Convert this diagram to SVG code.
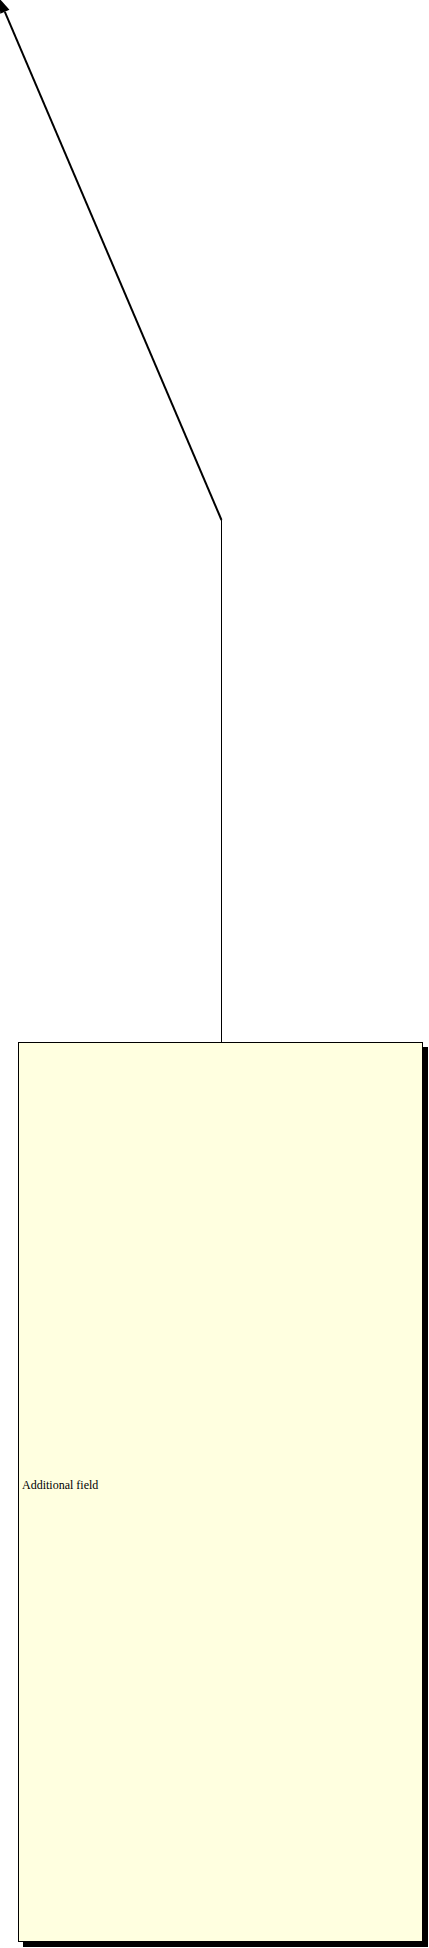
<svg xmlns="http://www.w3.org/2000/svg" width="429" height="1948" viewBox="0 0 429 1948">
<style>
.node{fill:#FFFFE0;stroke:#000;stroke-width:1}
.shadow{fill:#000}
.lbl{font-family:"Liberation Serif","Times New Roman",serif;font-size:12px;fill:#000}
.conn{fill:none;stroke:#000}
</style>
<rect width="429" height="1948" fill="#fff"/>
<g id="connectors">
<line class="conn" x1="221.5" y1="1042" x2="221.5" y2="520" stroke-width="1"/>
<line class="conn" x1="221.5" y1="520" x2="4.85" y2="11.8" stroke-width="2"/>
<polygon points="-1,-2 9.45,9.85 0.25,13.75" fill="#000"/>
</g>
<g id="node-additional-field">
<rect class="shadow" x="23" y="1047" width="405" height="900"/>
<rect class="node" x="18.5" y="1042.5" width="404" height="899"/>
<text class="lbl" x="22" y="1489">Additional field</text>
</g>
</svg>
